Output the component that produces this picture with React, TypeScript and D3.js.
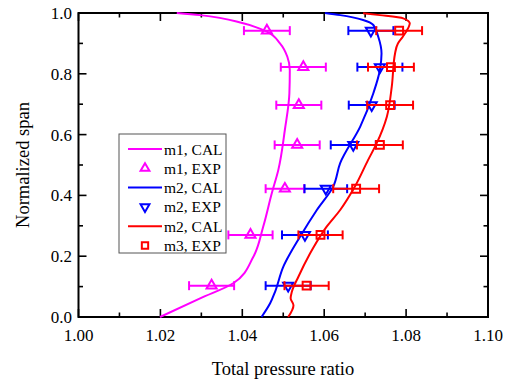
import React, { useEffect, useRef } from "react";
import * as d3 from "d3";

// measured span positions shared by all EXP series
const expSpan = [0.942, 0.822, 0.697, 0.566, 0.422, 0.27, 0.103];

const m1Exp = [1.046, 1.0549, 1.0538, 1.0534, 1.0504, 1.042, 1.0325];
const m1Err = [0.0056, 0.0055, 0.0055, 0.0055, 0.0047, 0.0054, 0.0055];
const m2Exp = [1.0714, 1.0736, 1.0716, 1.0671, 1.0604, 1.0553, 1.0512];
const m2Err = [0.0055, 0.0055, 0.0056, 0.0055, 0.0052, 0.0056, 0.0055];
const m3Exp = [1.0783, 1.0763, 1.0761, 1.0736, 1.0678, 1.0591, 1.0557];
const m3Err = [0.0056, 0.0056, 0.0056, 0.0056, 0.0056, 0.0054, 0.0054];

// CAL curves: [pressure ratio, span]
const m1Cal = [
    [1.0199, 0], [1.0297, 0.0615], [1.0378, 0.111], [1.0427, 0.198], [1.0451, 0.297],
    [1.0472, 0.407], [1.0488, 0.484], [1.0504, 0.616], [1.0515, 0.736], [1.0516, 0.8125],
    [1.051, 0.856], [1.0492, 0.9], [1.046, 0.9385], [1.0402, 0.966], [1.0297, 0.993], [1.024, 1.0],
];
const m2Cal = [
    [1.0447, 0], [1.0468, 0.045], [1.048, 0.083], [1.05, 0.165], [1.0541, 0.264],
    [1.0582, 0.352], [1.0622, 0.429], [1.0639, 0.506], [1.0688, 0.626], [1.072, 0.736],
    [1.0736, 0.8125], [1.074, 0.867], [1.0732, 0.922], [1.072, 0.9605], [1.0695, 0.977],
    [1.0639, 0.993], [1.0602, 1.0],
];
const m3Cal = [
    [1.0512, 0], [1.0525, 0.039], [1.0518, 0.0615], [1.0521, 0.083], [1.0537, 0.1325],
    [1.0573, 0.227], [1.0606, 0.297], [1.0639, 0.352], [1.0675, 0.429], [1.0707, 0.516],
    [1.0728, 0.571], [1.0753, 0.659], [1.0765, 0.758], [1.0773, 0.867], [1.078, 0.9],
    [1.0792, 0.922], [1.0805, 0.95], [1.0809, 0.966], [1.0793, 0.9825], [1.0736, 0.993],
    [1.0695, 0.999],
];

const xTicks = [1.0, 1.02, 1.04, 1.06, 1.08, 1.1];
const xMinor = [1.01, 1.03, 1.05, 1.07, 1.09];
const yTicks = [0, 0.2, 0.4, 0.6, 0.8, 1.0];
const yMinor = [0.1, 0.3, 0.5, 0.7, 0.9];

const legendItems = [
    { label: "m1, CAL", color: "#ff00ff", kind: "line" },
    { label: "m1, EXP", color: "#ff00ff", kind: "up" },
    { label: "m2, CAL", color: "#0000ff", kind: "line" },
    { label: "m2, EXP", color: "#0000ff", kind: "down" },
    { label: "m2, CAL", color: "#ff0000", kind: "line" },
    { label: "m3, EXP", color: "#ff0000", kind: "square" },
];

export default function App() {
    const ref = useRef<SVGSVGElement>(null);

    useEffect(() => {
        if (!ref.current) return;
        const svg = d3.select(ref.current);
        svg.selectAll("*").remove();

        const left = 78.5, right = 488, top = 13, bottom = 317;
        const font = "'Liberation Serif', 'Times New Roman', serif";

        const x = d3.scaleLinear().domain([1.0, 1.1]).range([left, right]);
        const y = d3.scaleLinear().domain([0, 1]).range([bottom, top]);

        const markerPath = (kind: string) => {
            if (kind === "square") return d3.symbol(d3.symbolSquare, 62)();
            return d3.symbol(d3.symbolTriangle, 44)();
        };

        // frame
        svg.append("rect")
            .attr("x", left).attr("y", top)
            .attr("width", right - left).attr("height", bottom - top)
            .attr("fill", "none").attr("stroke", "#000").attr("stroke-width", 2);

        // ticks (inward, all four sides)
        const tk = svg.append("g").attr("stroke", "#000").attr("stroke-width", 1.6);
        const addX = (vals: number[], len: number) => {
            vals.forEach(v => {
                tk.append("line").attr("x1", x(v)).attr("x2", x(v)).attr("y1", bottom).attr("y2", bottom - len);
                tk.append("line").attr("x1", x(v)).attr("x2", x(v)).attr("y1", top).attr("y2", top + len);
            });
        };
        const addY = (vals: number[], len: number) => {
            vals.forEach(v => {
                tk.append("line").attr("y1", y(v)).attr("y2", y(v)).attr("x1", left).attr("x2", left + len);
                tk.append("line").attr("y1", y(v)).attr("y2", y(v)).attr("x1", right).attr("x2", right - len);
            });
        };
        addX(xTicks, 8);
        addX(xMinor, 4.5);
        addY(yTicks, 8);
        addY(yMinor, 4.5);

        svg.append("g").selectAll("text").data(xTicks).join("text")
            .attr("x", d => x(d)).attr("y", 341)
            .attr("text-anchor", "middle")
            .attr("font-family", font).attr("font-size", 17)
            .text(d => d3.format(".2f")(d));

        svg.append("g").selectAll("text").data(yTicks).join("text")
            .attr("x", left - 6.5).attr("y", d => y(d) + 6)
            .attr("text-anchor", "end")
            .attr("font-family", font).attr("font-size", 17)
            .text(d => d3.format(".1f")(d));

        svg.append("text")
            .attr("x", 283).attr("y", 375)
            .attr("text-anchor", "middle")
            .attr("font-family", font).attr("font-size", 18.5)
            .text("Total pressure ratio");

        svg.append("text")
            .attr("transform", `translate(29,${(top + bottom) / 2}) rotate(-90)`)
            .attr("text-anchor", "middle")
            .attr("font-family", font).attr("font-size", 18.5)
            .text("Normalized span");

        const line = d3.line<number[]>()
            .x(d => x(d[0]))
            .y(d => y(d[1]))
            .curve(d3.curveMonotoneY);

        const plot = svg.append("g");

        const drawExp = (vals: number[], errs: number[], color: string, kind: string) => {
            const g = plot.append("g").attr("stroke", color).attr("stroke-width", 2).attr("fill", "none");
            vals.forEach((v, i) => {
                const cy = y(expSpan[i]);
                const x0 = x(v - errs[i]), x1 = x(v + errs[i]);
                g.append("line").attr("x1", x0).attr("x2", x1).attr("y1", cy).attr("y2", cy);
                g.append("line").attr("x1", x0).attr("x2", x0).attr("y1", cy - 4.5).attr("y2", cy + 4.5);
                g.append("line").attr("x1", x1).attr("x2", x1).attr("y1", cy - 4.5).attr("y2", cy + 4.5);
            });
            vals.forEach((v, i) => {
                g.append("path")
                    .attr("d", markerPath(kind))
                    .attr("fill", "none")
                    .attr("transform", `translate(${x(v)},${y(expSpan[i])})${kind === "down" ? " rotate(180)" : ""}`);
            });
        };

        plot.append("path").datum(m1Cal).attr("d", line)
            .attr("fill", "none").attr("stroke", "#ff00ff").attr("stroke-width", 2);
        drawExp(m1Exp, m1Err, "#ff00ff", "up");
        plot.append("path").datum(m2Cal).attr("d", line)
            .attr("fill", "none").attr("stroke", "#0000ff").attr("stroke-width", 2);
        drawExp(m2Exp, m2Err, "#0000ff", "down");
        plot.append("path").datum(m3Cal).attr("d", line)
            .attr("fill", "none").attr("stroke", "#ff0000").attr("stroke-width", 2);
        drawExp(m3Exp, m3Err, "#ff0000", "square");

        // legend
        const lg = svg.append("g");
        lg.append("rect")
            .attr("x", 119).attr("y", 134).attr("width", 107).attr("height", 119)
            .attr("fill", "#fff").attr("stroke", "#555").attr("stroke-width", 1);
        legendItems.forEach((it, i) => {
            const cy = 149 + i * 19.3;
            if (it.kind === "line") {
                lg.append("line").attr("x1", 128).attr("x2", 162).attr("y1", cy).attr("y2", cy)
                    .attr("stroke", it.color).attr("stroke-width", 2);
            } else {
                lg.append("path")
                    .attr("d", d3.symbol(it.kind === "square" ? d3.symbolSquare : d3.symbolTriangle, it.kind === "square" ? 40 : 34)())
                    .attr("fill", "none").attr("stroke", it.color).attr("stroke-width", 2)
                    .attr("transform", `translate(145,${cy})${it.kind === "down" ? " rotate(180)" : ""}`);
            }
            lg.append("text")
                .attr("x", 164).attr("y", cy + 5.5)
                .attr("font-family", font).attr("font-size", 15.5)
                .text(it.label);
        });
    }, []);

    return (
        <svg
            ref={ref}
            width="512"
            height="385"
            style={{ position: "absolute", left: 0, top: 0, background: "#fff" }}
        ></svg>
    );
}
